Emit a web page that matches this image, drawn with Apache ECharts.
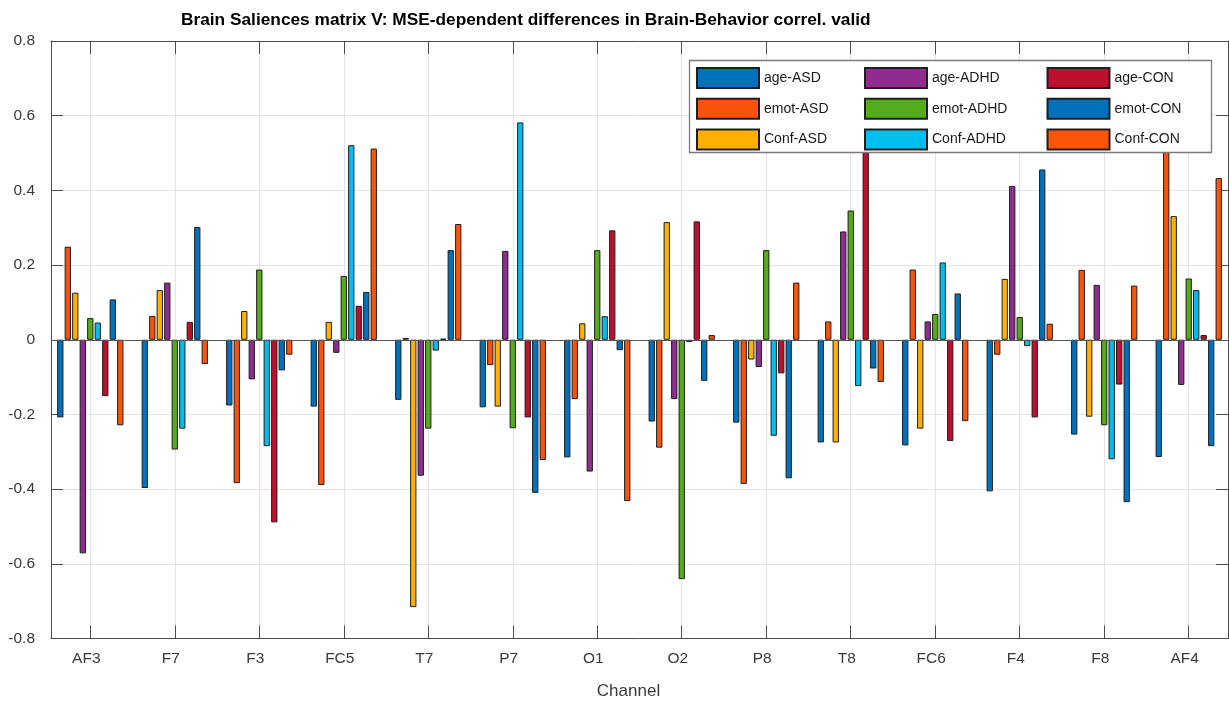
<!DOCTYPE html>
<html>
<head>
<meta charset="utf-8">
<script src="https://cdn.jsdelivr.net/npm/echarts@6/dist/echarts.min.js"></script>
<style>
  html, body { margin: 0; padding: 0; background: #fff; }
  #chart { width: 1229px; height: 702px; }
</style>
</head>
<body>
<div id="chart"></div>
<script>
// EEG channels on the x axis
const channels = ['AF3', 'F7', 'F3', 'FC5', 'T7', 'P7', 'O1', 'O2', 'P8', 'T8', 'FC6', 'F4', 'F8', 'AF4'];

// Correlation differences, one array per behaviour/group pair
const ageASD   = [-0.208, -0.397, -0.176, -0.179, -0.161, -0.181, -0.315, -0.219, -0.222, -0.275, -0.283, -0.406, -0.254, -0.314];
const emotASD  = [0.249, 0.064, -0.384, -0.389, 0.005, -0.068, -0.159, -0.289, -0.386, 0.049, 0.188, -0.040, 0.187, 0.560];
const confASD  = [0.126, 0.133, 0.077, 0.048, -0.716, -0.179, 0.044, 0.315, -0.053, -0.275, -0.238, 0.163, -0.206, 0.331];
const ageADHD  = [-0.572, 0.153, -0.106, -0.035, -0.364, 0.238, -0.353, -0.159, -0.073, 0.290, 0.049, 0.412, 0.147, -0.121];
const emotADHD = [0.058, -0.294, 0.188, 0.171, -0.238, -0.237, 0.240, -0.641, 0.240, 0.346, 0.069, 0.061, -0.229, 0.164];
const confADHD = [0.046, -0.238, -0.285, 0.521, -0.029, 0.582, 0.063, -0.006, -0.257, -0.124, 0.207, -0.017, -0.320, 0.133];
const ageCON   = [-0.151, 0.048, -0.489, 0.091, 0.003, -0.208, 0.293, 0.317, -0.090, 0.550, -0.271, -0.208, -0.120, 0.0125];
const emotCON  = [0.108, 0.302, -0.082, 0.128, 0.240, -0.410, -0.028, -0.110, -0.371, -0.077, 0.124, 0.456, -0.435, -0.285];
const confCON  = [-0.229, -0.065, -0.040, 0.512, 0.310, -0.322, -0.432, 0.0125, 0.153, -0.113, -0.218, 0.043, 0.145, 0.433];

const seriesNames = ['age-ASD', 'emot-ASD', 'Conf-ASD', 'age-ADHD', 'emot-ADHD', 'Conf-ADHD', 'age-CON', 'emot-CON', 'Conf-CON'];
const seriesValues = [ageASD, emotASD, confASD, ageADHD, emotADHD, confADHD, ageCON, emotCON, confCON];
const seriesColors = ['#0072BD', '#FA520A', '#FFB000', '#8E2D8F', '#56AB1A', '#00BEEE', '#BE0F2E', '#0072BD', '#FA5509'];

const titleText = 'Brain Saliences matrix V: MSE-dependent differences in Brain-Behavior correl. valid';
const xAxisTitle = 'Channel';

const FONT = '"Liberation Sans", Arial, Helvetica, sans-serif';
const positions = channels.map((_, i) => i + 1);
const X_MIN = 0.535, X_MAX = 14.465;

const chart = echarts.init(document.getElementById('chart'), null, { renderer: 'canvas' });

const series = seriesNames.map((name, s) => ({
  name: name,
  type: 'bar',
  xAxisIndex: 0,
  yAxisIndex: 0,
  barWidth: 6.3,
  barGap: '19%',
  itemStyle: { color: seriesColors[s], borderColor: '#1e1e1e', borderWidth: 1 },
  emphasis: { disabled: true },
  data: seriesValues[s].map((v, i) => [positions[i], v]),
  z: 2
}));

// bar baseline at zero
series[0].markLine = {
  silent: true,
  symbol: 'none',
  label: { show: false },
  lineStyle: { color: '#555', width: 1, type: 'solid' },
  data: [{ yAxis: 0 }],
  z: 3
};

function legendColumn(names, left) {
  return {
    data: names,
    orient: 'vertical',
    left: left,
    top: 67,
    padding: 0,
    itemWidth: 62,
    itemHeight: 20,
    itemGap: 8.7,
    icon: 'rect',
    selectedMode: false,
    z: 5,
    textStyle: { fontFamily: FONT, fontSize: 14, color: '#1a1a1a', padding: [0, 0, 2, 0] }
  };
}

const option = {
  animation: false,
  backgroundColor: '#ffffff',
  title: {
    text: titleText,
    left: 176,
    top: 7,
    textStyle: { fontFamily: FONT, fontSize: 17.3, fontWeight: 'bold', color: '#000' }
  },
  legend: [
    legendColumn(['age-ASD', 'emot-ASD', 'Conf-ASD'], 696),
    legendColumn(['age-ADHD', 'emot-ADHD', 'Conf-ADHD'], 864),
    legendColumn(['age-CON', 'emot-CON', 'Conf-CON'], 1046.5)
  ],
  graphic: [{
    type: 'rect',
    shape: { x: 689.5, y: 60.5, width: 522, height: 92 },
    style: { fill: '#fff', stroke: '#7a7a7a', lineWidth: 1.3 },
    z: 4,
    silent: true
  }],
  grid: { left: 51, right: 1, top: 41, bottom: 63.5, containLabel: false, outerBoundsMode: 'none' },
  xAxis: [{
    type: 'value',
    min: X_MIN,
    max: X_MAX,
    position: 'bottom',
    name: xAxisTitle,
    nameLocation: 'middle',
    nameGap: 44,
    nameTextStyle: { fontFamily: FONT, fontSize: 17, color: '#3a3a3a', padding: [0, 22, 0, 0] },
    axisLine: { show: true, onZero: false, lineStyle: { color: '#4d4d4d', width: 1 } },
    axisTick: { show: true, inside: true, length: 13, customValues: positions, lineStyle: { color: '#4d4d4d' } },
    axisLabel: {
      customValues: positions,
      formatter: v => channels[Math.round(v) - 1] || '',
      fontFamily: FONT, fontSize: 15.5, color: '#3a3a3a', margin: 12,
      padding: [0, 8, 0, 0]
    },
    splitLine: { show: true, lineStyle: { color: '#e3e3e3', width: 1 } }
  }, {
    type: 'value',
    min: X_MIN,
    max: X_MAX,
    position: 'top',
    axisLine: { show: true, onZero: false, lineStyle: { color: '#4d4d4d', width: 1 } },
    axisTick: { show: true, inside: true, length: 13, customValues: positions, lineStyle: { color: '#4d4d4d' } },
    axisLabel: { show: false },
    splitLine: { show: false }
  }],
  yAxis: [{
    type: 'value',
    min: -0.8,
    max: 0.8,
    interval: 0.2,
    position: 'left',
    axisLine: { show: true, onZero: false, lineStyle: { color: '#4d4d4d', width: 1 } },
    axisTick: { show: true, inside: true, length: 12, lineStyle: { color: '#4d4d4d' } },
    axisLabel: {
      fontFamily: FONT, fontSize: 15.5, color: '#3a3a3a', margin: 16,
      padding: [0, 0, 6, 0],
      formatter: v => String(Math.round(v * 10) / 10)
    },
    splitLine: { show: true, lineStyle: { color: '#e3e3e3', width: 1 } }
  }, {
    type: 'value',
    min: -0.8,
    max: 0.8,
    interval: 0.2,
    position: 'right',
    axisLine: { show: true, onZero: false, lineStyle: { color: '#4d4d4d', width: 1 } },
    axisTick: { show: true, inside: true, length: 12, lineStyle: { color: '#4d4d4d' } },
    axisLabel: { show: false },
    splitLine: { show: false }
  }],
  series: series
};

chart.setOption(option);
</script>
</body>
</html>
